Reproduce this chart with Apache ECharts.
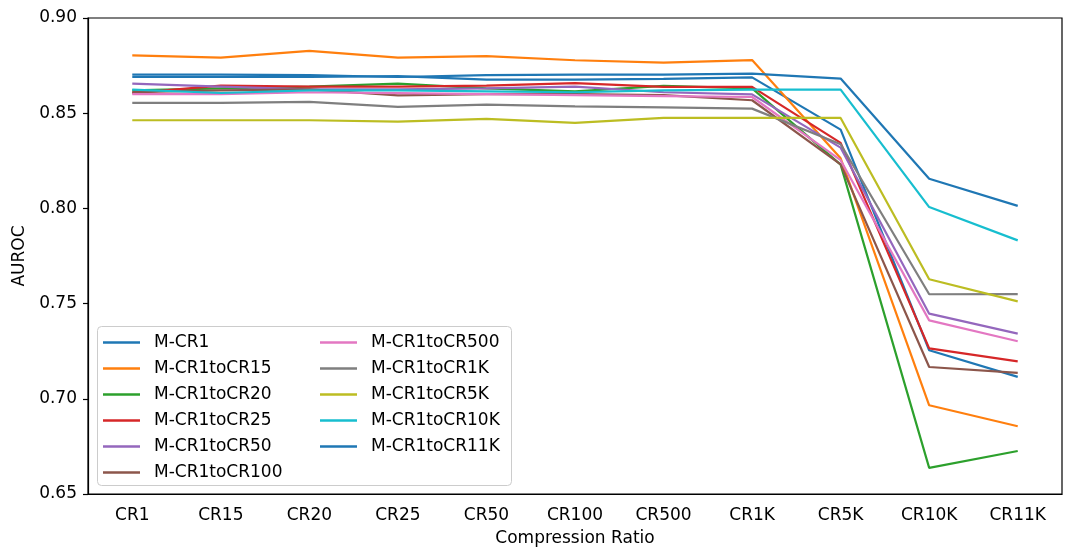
<!DOCTYPE html>
<html><head><meta charset="utf-8">
<script src="https://cdn.jsdelivr.net/npm/echarts@6/dist/echarts.min.js"></script>
<style>html,body{margin:0;padding:0;background:#fff}#c{width:1072px;height:547px}</style>
</head><body><div id="c"></div>
<script>
const categories = ['CR1','CR15','CR20','CR25','CR50','CR100','CR500','CR1K','CR5K','CR10K','CR11K'];
const yTicks = [0.65, 0.70, 0.75, 0.80, 0.85, 0.90];
const seriesNames = ['M-CR1','M-CR1toCR15','M-CR1toCR20','M-CR1toCR25','M-CR1toCR50','M-CR1toCR100','M-CR1toCR500','M-CR1toCR1K','M-CR1toCR5K','M-CR1toCR10K','M-CR1toCR11K'];
const mCR1        = [0.8690,0.8690,0.8690,0.8695,0.8676,0.8676,0.8680,0.8688,0.8414,0.7255,0.7115];
const mCR1toCR15  = [0.8804,0.8792,0.8827,0.8792,0.8800,0.8778,0.8766,0.8779,0.8263,0.6966,0.6856];
const mCR1toCR20  = [0.8620,0.8630,0.8640,0.8655,0.8630,0.8615,0.8643,0.8630,0.8230,0.6637,0.6726];
const mCR1toCR25  = [0.8605,0.8645,0.8640,0.8640,0.8645,0.8658,0.8638,0.8638,0.8344,0.7265,0.7197];
const mCR1toCR50  = [0.8655,0.8640,0.8625,0.8625,0.8630,0.8640,0.8610,0.8599,0.8319,0.7447,0.7342];
const mCR1toCR100 = [0.8611,0.8620,0.8625,0.8594,0.8600,0.8600,0.8595,0.8568,0.8231,0.7167,0.7136];
const mCR1toCR500 = [0.8600,0.8600,0.8610,0.8605,0.8600,0.8595,0.8590,0.8585,0.8253,0.7412,0.7302];
const mCR1toCR1K  = [0.8554,0.8554,0.8559,0.8533,0.8545,0.8536,0.8531,0.8524,0.8337,0.7549,0.7550];
const mCR1toCR5K  = [0.8463,0.8463,0.8463,0.8456,0.8470,0.8449,0.8475,0.8475,0.8475,0.7628,0.7512];
const mCR1toCR10K = [0.8624,0.8606,0.8620,0.8620,0.8615,0.8610,0.8620,0.8624,0.8624,0.8007,0.7832];
const mCR1toCR11K = [0.8703,0.8703,0.8700,0.8690,0.8700,0.8703,0.8703,0.8708,0.8682,0.8156,0.8013];
const allValues = [mCR1,mCR1toCR15,mCR1toCR20,mCR1toCR25,mCR1toCR50,mCR1toCR100,mCR1toCR500,mCR1toCR1K,mCR1toCR5K,mCR1toCR10K,mCR1toCR11K];
const colors = ['#1f77b4','#ff7f0e','#2ca02c','#d62728','#9467bd','#8c564b','#e377c2','#7f7f7f','#bcbd22','#17becf','#1f77b4'];

const font = 'DejaVu Sans';
const fs = 17;
const chart = echarts.init(document.getElementById('c'), null, {renderer:'canvas'});
chart.setOption({
  animation:false,
  backgroundColor:'#fff',
  color: colors,
  textStyle:{fontFamily:font},
  grid:{left:88, right:10, top:18, bottom:53, containLabel:false, outerBoundsMode:'none',
        show:true, borderColor:'#000', borderWidth:1.2, backgroundColor:'transparent'},
  graphic:[{
    type:'rect', left:97, top:326, z:3,
    shape:{width:414, height:159, r:4},
    style:{fill:'rgba(255,255,255,0.9)', stroke:'#cccccc', lineWidth:1}
  }],
  legend:{
    orient:'vertical', left:97, top:326, height:148,
    padding:[8,8,7,6], itemGap:9, itemWidth:37, itemHeight:2.6, icon:'rect',
    backgroundColor:'transparent', borderWidth:0, z:5,
    textStyle:{fontFamily:font, fontSize:fs, lineHeight:16.5, color:'#000', padding:[0,0,0,9], width:157},
    data: seriesNames
  },
  xAxis:{
    type:'category', data:categories, boundaryGap:true,
    name:'Compression Ratio', nameLocation:'middle', nameGap:36,
    nameTextStyle:{fontFamily:font, fontSize:fs, color:'#000'},
    axisLine:{lineStyle:{color:'#000', width:1.2}},
    axisTick:{alignWithLabel:true, length:5, lineStyle:{color:'#000', width:1.2}},
    axisLabel:{fontFamily:font, fontSize:fs, color:'#000', margin:13},
    splitLine:{show:false}
  },
  yAxis:{
    type:'value', min:yTicks[0], max:yTicks[yTicks.length-1], interval:0.05,
    name:'AUROC', nameLocation:'middle', nameGap:58,
    nameTextStyle:{fontFamily:font, fontSize:fs, color:'#000'},
    axisLine:{show:true, lineStyle:{color:'#000', width:1.2}},
    axisTick:{show:true, length:5, lineStyle:{color:'#000', width:1.2}},
    axisLabel:{fontFamily:font, fontSize:fs, color:'#000', margin:11, formatter:v=>v.toFixed(2)},
    splitLine:{show:false}
  },
  series: seriesNames.map((n,i)=>({
    name:n, type:'line', data:allValues[i], symbol:'none', smooth:false,
    lineStyle:{width:2.2, color:colors[i]}, itemStyle:{color:colors[i]}, z:2
  }))
});
</script></body></html>
